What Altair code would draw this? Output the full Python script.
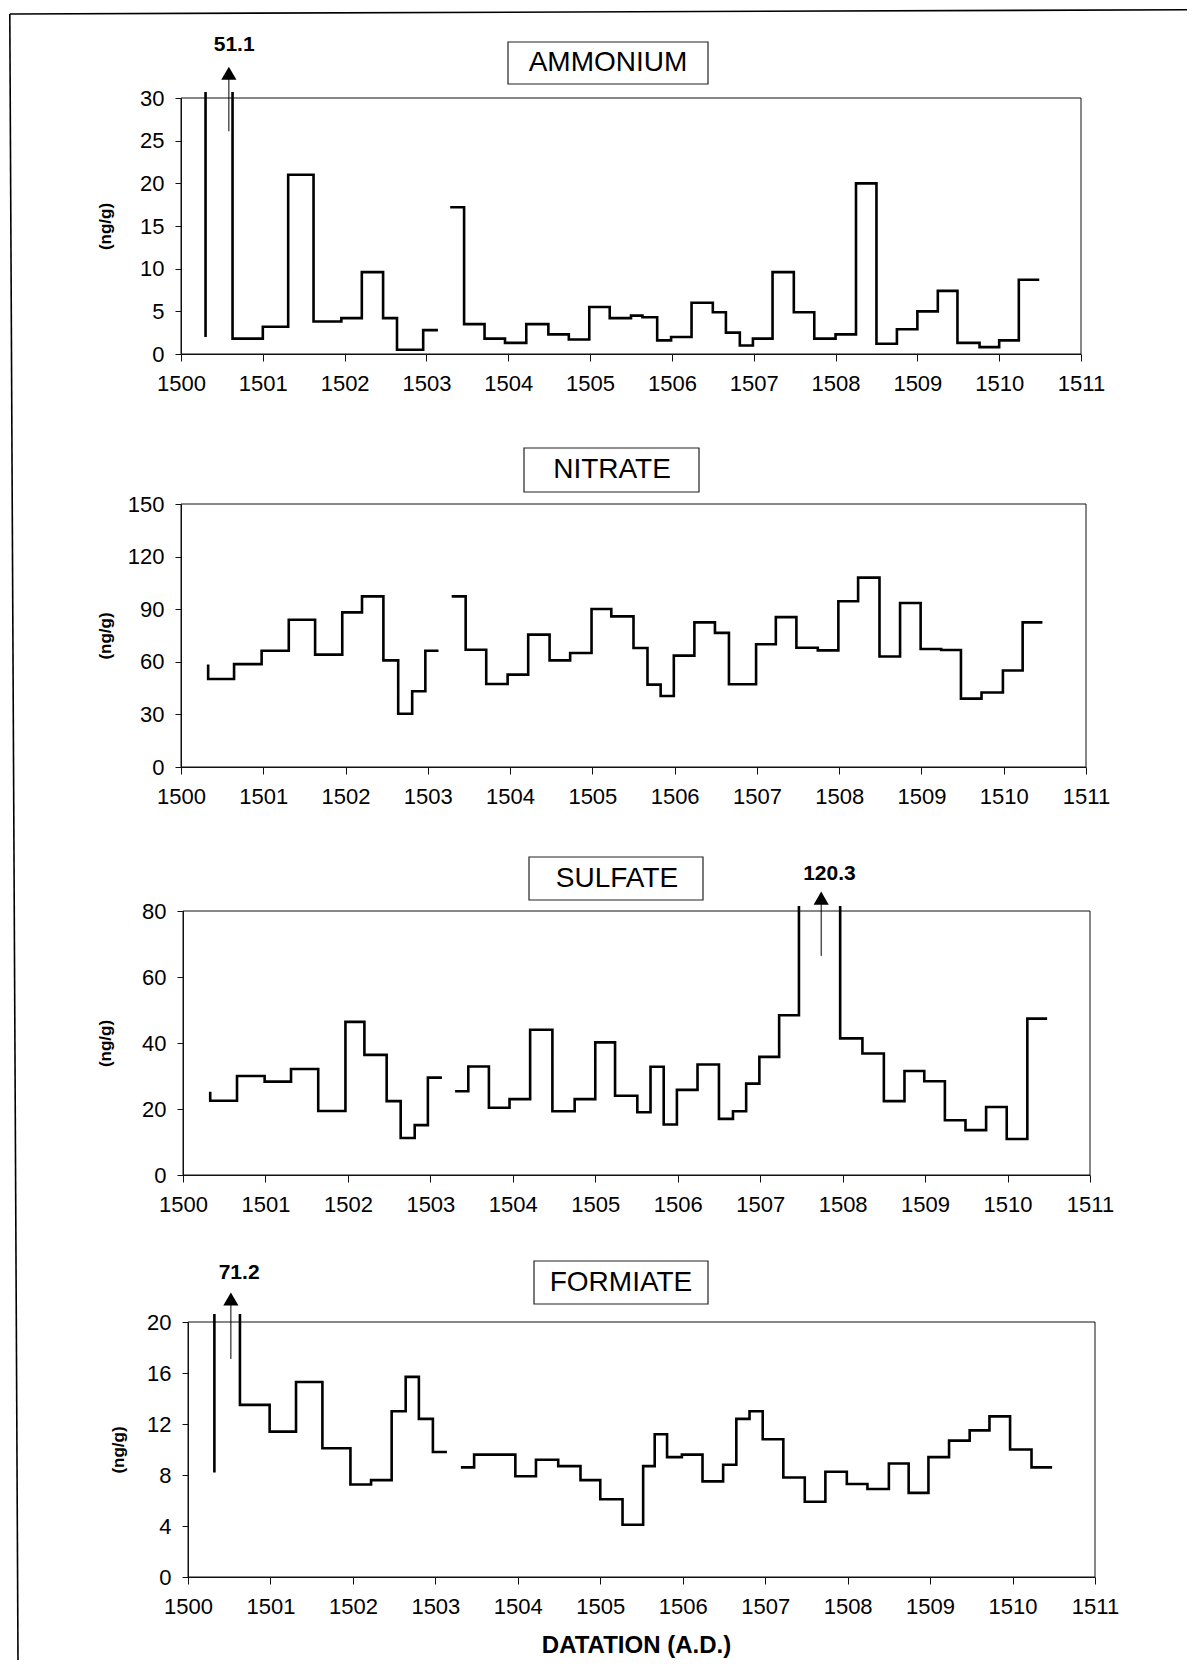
import altair as alt
import pandas as pd

YEAR_TICKS = list(range(1500, 1512))

# ---------------- data (step series: value v[i] spans x[i-1] .. x[i]) ----------------
AMM_X1 = [1500.30, 1500.63, 1501.00, 1501.31, 1501.62, 1501.96, 1502.21, 1502.47, 1502.64, 1502.96, 1503.14]
AMM_V1 = [2.0, 51.1, 1.8, 3.2, 21.0, 3.8, 4.2, 9.6, 4.2, 0.5, 2.8]
AMM_X2 = [1503.29, 1503.46, 1503.71, 1503.96, 1504.22, 1504.49, 1504.74, 1504.99, 1505.24, 1505.50,
          1505.64, 1505.82, 1505.99, 1506.24, 1506.50, 1506.66, 1506.83, 1506.99, 1507.23, 1507.49,
          1507.74, 1508.00, 1508.25, 1508.50, 1508.75, 1509.00, 1509.25, 1509.49, 1509.76, 1510.00,
          1510.24, 1510.49]
AMM_V2 = [17.2, 17.2, 3.5, 1.8, 1.3, 3.5, 2.3, 1.7, 5.5, 4.2,
          4.5, 4.3, 1.6, 2.0, 6.0, 4.9, 2.5, 1.0, 1.8, 9.6,
          4.9, 1.8, 2.3, 20.0, 1.2, 2.9, 5.0, 7.4, 1.3, 0.8,
          1.6, 8.7]

NIT_X1 = [1500.33, 1500.645, 1500.98, 1501.31, 1501.63, 1501.96, 1502.20, 1502.46, 1502.64, 1502.81, 1502.97, 1503.13]
NIT_V1 = [58.4, 50.2, 58.7, 66.3, 84.0, 64.1, 88.2, 97.3, 60.8, 30.4, 43.2, 66.3]
NIT_X2 = [1503.29, 1503.46, 1503.71, 1503.97, 1504.22, 1504.48, 1504.73, 1504.99, 1505.23, 1505.50,
          1505.67, 1505.83, 1505.99, 1506.24, 1506.49, 1506.66, 1506.99, 1507.23, 1507.48, 1507.74,
          1507.99, 1508.23, 1508.49, 1508.74, 1508.99, 1509.24, 1509.48, 1509.73, 1509.99, 1510.23,
          1510.47]
NIT_V2 = [97.3, 97.3, 66.9, 47.3, 52.7, 75.5, 60.8, 65.0, 90.1, 85.9,
          67.9, 47.0, 40.5, 63.5, 82.5, 76.5, 47.2, 70.0, 85.5, 68.0,
          66.5, 94.5, 108.0, 63.0, 93.5, 67.3, 66.7, 39.0, 42.5, 55.0,
          82.5]

SUL_X1 = [1500.33, 1500.655, 1500.99, 1501.31, 1501.64, 1501.97, 1502.20, 1502.47, 1502.64, 1502.81, 1502.97, 1503.14]
SUL_V1 = [25.2, 22.5, 30.0, 28.3, 32.1, 19.4, 46.4, 36.4, 22.4, 11.2, 15.1, 29.5]
SUL_X2 = [1503.30, 1503.46, 1503.71, 1503.96, 1504.21, 1504.48, 1504.75, 1505.00, 1505.24, 1505.51,
          1505.67, 1505.83, 1505.99, 1506.24, 1506.50, 1506.67, 1506.83, 1506.99, 1507.23, 1507.47,
          1507.97, 1508.24, 1508.50, 1508.75, 1508.99, 1509.24, 1509.49, 1509.74, 1509.99, 1510.24,
          1510.48]
SUL_V2 = [25.4, 25.4, 32.9, 20.4, 23.0, 44.0, 19.3, 23.0, 40.2, 24.0,
          19.0, 32.8, 15.3, 25.8, 33.5, 17.0, 19.3, 27.7, 35.8, 48.4,
          120.3, 41.4, 36.8, 22.4, 31.5, 28.4, 16.6, 13.6, 20.6, 10.9,
          47.4]

FOR_X1 = [1500.32, 1500.63, 1500.99, 1501.31, 1501.63, 1501.97, 1502.22, 1502.47, 1502.64, 1502.80, 1502.97, 1503.14]
FOR_V1 = [8.2, 71.2, 13.5, 11.4, 15.3, 10.1, 7.25, 7.6, 13.0, 15.7, 12.4, 9.8]
FOR_X2 = [1503.31, 1503.47, 1503.97, 1504.22, 1504.49, 1504.76, 1505.00, 1505.27, 1505.52, 1505.66,
          1505.81, 1505.99, 1506.24, 1506.49, 1506.65, 1506.81, 1506.97, 1507.22, 1507.48, 1507.73,
          1507.99, 1508.24, 1508.50, 1508.74, 1508.98, 1509.23, 1509.48, 1509.72, 1509.97, 1510.23,
          1510.48]
FOR_V2 = [8.6, 8.6, 9.6, 7.9, 9.2, 8.7, 7.6, 6.1, 4.1, 8.7,
          11.2, 9.4, 9.6, 7.5, 8.8, 12.4, 13.0, 10.8, 7.8, 5.9,
          8.25, 7.3, 6.9, 8.9, 6.6, 9.4, 10.7, 11.5, 12.6, 10.0,
          8.6]

# off-scale peak annotations: arrow x, stem low, stem high, label, label x, label y
AMM_ANN = dict(year=1500.585, lo=26.1, hi=32.9, label="51.1", lx=1500.65, ly=36.2)
SUL_ANN = dict(year=1507.74, lo=66.4, hi=83.9, label="120.3", lx=1507.84, ly=91.1)
FOR_ANN = dict(year=1500.52, lo=17.1, hi=21.8, label="71.2", lx=1500.62, ly=23.85)

FONT = "Liberation Sans"
INK = "#111"

# ---------------- layout (page pixels) ----------------
ORIGIN_X = 180.0          # common left origin of all panel groups
SPACING = 139
# plot left, right, top, bottom, extra room above plot (lets clipped spikes poke out)
GEOM = {
    "AMMONIUM": (180, 1080, 97, 353, 6),
    "NITRATE": (180, 1085, 503, 766, 11),
    "SULFATE": (182, 1089, 910, 1174, 5),
    "FORMIATE": (187, 1094, 1321, 1576, 8),
}
# title boxes (x0, x1, y0, y1) and label centres, page pixels
BOXES = {
    "AMMONIUM": ((507, 707, 41, 83), (607, 62)),
    "NITRATE": ((523, 698, 447, 491), (611, 469)),
    "SULFATE": ((528, 702, 856, 899), (616, 877.5)),
    "FORMIATE": ((533, 707, 1260, 1303), (620, 1281.5)),
}
YTITLE_X = {"AMMONIUM": 104, "NITRATE": 104, "SULFATE": 104, "FORMIATE": 117}


def series_df(x1, v1, x2, v2):
    rows = []
    for seg, (xs, vs) in enumerate([(x1, v1), (x2, v2)]):
        for i, (x, v) in enumerate(zip(xs, vs)):
            rows.append({"year": x, "value": v, "seg": seg, "order": i})
    return pd.DataFrame(rows)


ONE = pd.DataFrame({"k": [0]})


def panel(df, name, ymax, yticks, ann=None, xtitle=False, border=None):
    left, right, top, bottom, ty = GEOM[name]
    gtop = top - ty
    dx = left - ORIGIN_X
    w = right - left
    ph = bottom - top
    gh = ph + ty

    x_axis_kw = dict(values=YEAR_TICKS, format="d", tickSize=7, labelPadding=12,
                     labelFontSize=22, labelFlush=False, labelOverlap=False, grid=False)
    if xtitle:
        x_axis_kw.update(title="DATATION (A.D.)", titleX=635 - ORIGIN_X, titleY=68,
                         titleAlign="center", titleBaseline="middle",
                         titleFontSize=24, titleFontWeight="bold")
    else:
        x_axis_kw.update(title=None)
    x = alt.X("year:Q", scale=alt.Scale(domain=[1500, 1511], range=[dx, dx + w], nice=False, zero=False),
              axis=alt.Axis(**x_axis_kw))
    y = alt.Y("value:Q", scale=alt.Scale(domain=[0, ymax], range=[gh, ty], nice=False, zero=True),
              axis=alt.Axis(values=yticks, tickSize=6, labelPadding=11, labelFontSize=22,
                            labelFlush=False, labelOverlap=False, grid=False, offset=-dx,
                            title="(ng/g)", titleX=YTITLE_X[name] - left, titleY=ty + ph / 2,
                            titleAngle=270, titleBaseline="middle", titleAlign="center",
                            titleFontSize=17, titleFontWeight="bold"))

    frame = alt.Chart(ONE).mark_rect(fill="transparent", stroke=INK, strokeWidth=1).encode(
        x=alt.value(dx), x2=alt.value(dx + w), y=alt.value(ty), y2=alt.value(gh))

    line = alt.Chart(df).mark_line(interpolate="step-before", clip=True, color="black",
                                   strokeWidth=2.6).encode(
        x=x, y=y, detail="seg:N", order="order:Q")

    layers = [frame, line]

    (bx0, bx1, by0, by1), (tx, tyy) = BOXES[name]
    rect = alt.Chart(ONE).mark_rect(fill="white", stroke="#222", strokeWidth=1.2).encode(
        x=alt.value(bx0 - ORIGIN_X), x2=alt.value(bx1 - ORIGIN_X),
        y=alt.value(by0 - gtop), y2=alt.value(by1 - gtop))
    title = alt.Chart(ONE).mark_text(text=name, font=FONT, fontSize=28, color="black",
                                     align="center", baseline="middle").encode(
        x=alt.value(tx - ORIGIN_X), y=alt.value(tyy - gtop))
    layers += [rect, title]

    if ann is not None:
        adf = pd.DataFrame([ann])
        stem = alt.Chart(adf).mark_rule(color="black", strokeWidth=1).encode(
            x=alt.X("year:Q"), y=alt.Y("lo:Q"), y2="hi:Q")
        head = alt.Chart(adf).mark_point(shape="triangle-up", filled=True, size=230,
                                         color="black", opacity=1).encode(
            x=alt.X("year:Q"), y=alt.Y("hi:Q"))
        lab = alt.Chart(adf).mark_text(font=FONT, fontSize=21, fontWeight="bold", color="black",
                                       align="center", baseline="middle").encode(
            x=alt.X("lx:Q"), y=alt.Y("ly:Q"), text="label:N")
        layers += [stem, head, lab]

    if border is not None:
        for (xa, ya, xb, yb) in border:
            layers.append(alt.Chart(ONE).mark_rule(color="black", strokeWidth=1.6).encode(
                x=alt.value(xa - ORIGIN_X), y=alt.value(ya - gtop),
                x2=alt.value(xb - ORIGIN_X), y2=alt.value(yb - gtop)))

    return alt.layer(*layers).properties(width=dx + w, height=gh)


amm = series_df(AMM_X1, AMM_V1, AMM_X2, AMM_V2)
nit = series_df(NIT_X1, NIT_V1, NIT_X2, NIT_V2)
sul = series_df(SUL_X1, SUL_V1, SUL_X2, SUL_V2)
frm = series_df(FOR_X1, FOR_V1, FOR_X2, FOR_V2)

# outer figure frame, page pixels (left and top edges of the scanned page frame)
border = [
    (8.8, 13.0, 17.0, 1659.0),
    (8.8, 13.0, 1186.0, 8.8),
]

p1 = panel(amm, "AMMONIUM", 30, [0, 5, 10, 15, 20, 25, 30], ann=AMM_ANN, border=border)
p2 = panel(nit, "NITRATE", 150, [0, 30, 60, 90, 120, 150])
p3 = panel(sul, "SULFATE", 80, [0, 20, 40, 60, 80], ann=SUL_ANN)
p4 = panel(frm, "FORMIATE", 20, [0, 4, 8, 12, 16, 20], ann=FOR_ANN, xtitle=True)

chart = alt.vconcat(p1, p2, p3, p4, spacing=SPACING, bounds="flush").properties(
    padding={"left": 0, "top": 0, "right": 0, "bottom": 0},
    background="white",
).configure_view(
    stroke="transparent"
).configure_axis(
    labelFont=FONT, titleFont=FONT, labelColor="black", titleColor="black",
    domainColor=INK, tickColor=INK, domainWidth=1, tickWidth=1,
)

chart.save("out.html", embed_options={"renderer": "svg", "actions": False})
